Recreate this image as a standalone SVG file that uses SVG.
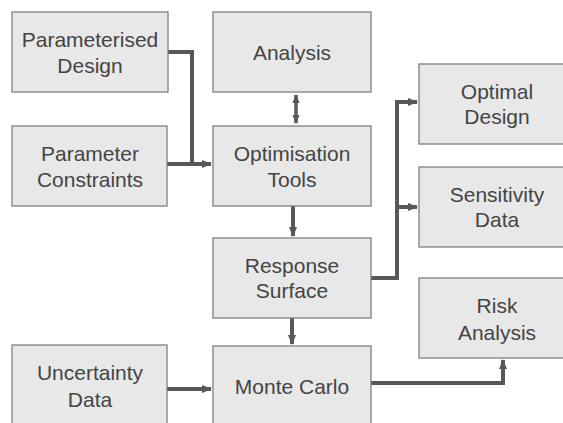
<svg xmlns="http://www.w3.org/2000/svg" width="563" height="423" viewBox="0 0 563 423">
<style>
.box{fill:#e8e8e8;stroke:#808080;stroke-width:1.3}
.t{font-family:"Liberation Sans",Arial,sans-serif;font-size:21px;fill:#444444;text-anchor:middle}
.c{fill:none;stroke:#585858;stroke-width:4;stroke-linejoin:miter}
.thin{fill:none;stroke:#5a5a5a;stroke-width:3.5}
</style>
<defs>
<marker id="ah" markerUnits="userSpaceOnUse" markerWidth="10" markerHeight="10" viewBox="0 0 10 10" refX="9" refY="5" orient="auto">
<path d="M0,1 L10,5 L0,9 Z" fill="#585858"/>
</marker>
<marker id="ahs" markerUnits="userSpaceOnUse" markerWidth="9" markerHeight="9" viewBox="0 0 10 10" refX="9" refY="5" orient="auto-start-reverse">
<path d="M0,1 L10,5 L0,9 Z" fill="#585858"/>
</marker>
</defs>
<rect width="563" height="423" fill="#ffffff"/>
<g id="connectors">
<path class="c" d="M168,52 H192 V164"/>
<path class="c" d="M167,164 H211" marker-end="url(#ah)"/>
<path class="thin" d="M296,95 V123" marker-start="url(#ahs)" marker-end="url(#ahs)"/>
<path class="c" d="M293,206 V236" marker-end="url(#ah)"/>
<path class="c" d="M292,318 V344" marker-end="url(#ah)"/>
<path class="c" d="M371,278 H397 V102 H417" marker-end="url(#ah)"/>
<path class="c" d="M397,207 H417" marker-end="url(#ah)"/>
<path class="c" d="M371,383 H503 V360" marker-end="url(#ah)"/>
<path class="c" d="M167,389 H211" marker-end="url(#ah)"/>
</g>
<g id="param-design"><rect class="box" x="12" y="12" width="156" height="80"/><text class="t" x="90" y="47">Parameterised</text><text class="t" x="90" y="73">Design</text></g>
<g id="param-constraints"><rect class="box" x="12" y="126" width="155" height="80"/><text class="t" x="90" y="161">Parameter</text><text class="t" x="90" y="187">Constraints</text></g>
<g id="analysis"><rect class="box" x="213" y="12" width="158" height="80"/><text class="t" x="292" y="60">Analysis</text></g>
<g id="optimisation"><rect class="box" x="213" y="126" width="158" height="80"/><text class="t" x="292" y="161">Optimisation</text><text class="t" x="292" y="187">Tools</text></g>
<g id="response"><rect class="box" x="213" y="238" width="158" height="80"/><text class="t" x="292" y="273">Response</text><text class="t" x="292" y="298">Surface</text></g>
<g id="monte-carlo"><rect class="box" x="213" y="346" width="158" height="90"/><text class="t" x="292" y="394">Monte Carlo</text></g>
<g id="uncertainty"><rect class="box" x="12" y="345" width="155" height="90"/><text class="t" x="90" y="380">Uncertainty</text><text class="t" x="90" y="407">Data</text></g>
<g id="optimal"><rect class="box" x="419" y="64" width="160" height="80"/><text class="t" x="497" y="99">Optimal</text><text class="t" x="497" y="124">Design</text></g>
<g id="sensitivity"><rect class="box" x="419" y="167" width="160" height="80"/><text class="t" x="497" y="202">Sensitivity</text><text class="t" x="497" y="227">Data</text></g>
<g id="risk"><rect class="box" x="419" y="278" width="160" height="80"/><text class="t" x="497" y="313">Risk</text><text class="t" x="497" y="340">Analysis</text></g>
</svg>
